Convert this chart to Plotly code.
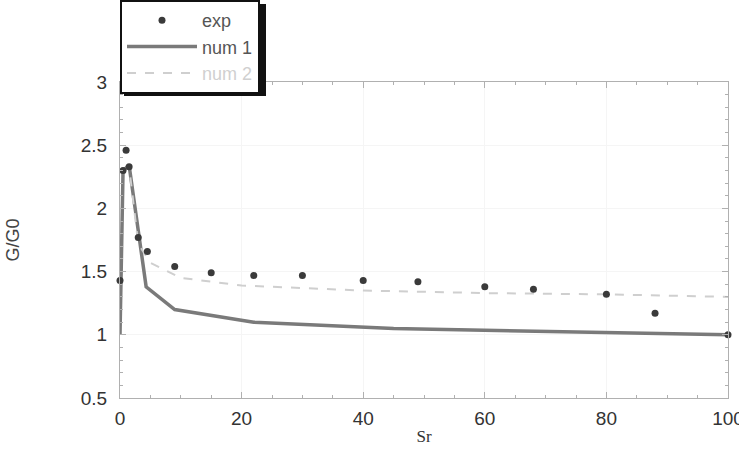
import plotly.graph_objects as go

exp_x = [0, 0.5, 1, 1.5, 3, 4.5, 9, 15, 22, 30, 40, 49, 60, 68, 80, 88, 100]
exp_y = [1.43, 2.3, 2.46, 2.33, 1.77, 1.66, 1.54, 1.49, 1.47, 1.47, 1.43, 1.42, 1.38, 1.36, 1.32, 1.17, 1.0]

num1_x = [0, 0.5, 1.5, 4.3, 9, 22, 45, 100]
num1_y = [1.0, 2.3, 2.34, 1.38, 1.2, 1.1, 1.05, 1.0]

num2_x = [0.5, 1.5, 3, 5, 10, 20, 40, 60, 80, 100]
num2_y = [2.3, 2.33, 1.72, 1.57, 1.45, 1.39, 1.35, 1.33, 1.32, 1.3]

fig = go.Figure()
fig.add_trace(go.Scatter(x=num1_x, y=num1_y, mode="lines", name="num 1", legendrank=2,
                         line=dict(color="#7a7a7a", width=3.5), cliponaxis=False))
fig.add_trace(go.Scatter(x=num2_x, y=num2_y, mode="lines", legendrank=3,
                         name="<span style='color:#d0d0d0'>num 2</span>",
                         line=dict(color="#cfcfcf", width=2, dash="dash"), cliponaxis=False))
fig.add_trace(go.Scatter(x=exp_x, y=exp_y, mode="markers", name="exp", legendrank=1,
                         marker=dict(color="#3a3a3a", size=7), cliponaxis=False))

axis_common = dict(showline=True, linecolor="#b0b0b0", linewidth=1, mirror="ticks",
                   ticks="inside", ticklen=6, tickcolor="#b0b0b0",
                   showgrid=True, gridcolor="#f5f5f5", zeroline=False,
                   ticklabeloverflow="allow",
                   tickfont=dict(family="Liberation Sans, Arial", size=19, color="#333"))

fig.update_xaxes(range=[0, 100], tick0=0, dtick=20, ticklabelstandoff=3,
                 minor=dict(dtick=5, ticks="inside", ticklen=3, tickcolor="#b0b0b0", showgrid=False),
                 title=dict(text="Sr", font=dict(family="Liberation Serif", size=17, color="#333"), standoff=2),
                 **axis_common)
fig.update_yaxes(range=[0.5, 3], tick0=0.5, dtick=0.5, ticklabelstandoff=8,
                 minor=dict(dtick=0.1, ticks="inside", ticklen=3, tickcolor="#b0b0b0", showgrid=False),
                 title=dict(text="G/G0", font=dict(family="Liberation Sans, Arial", size=18, color="#444"), standoff=56),
                 **axis_common)

# legend drop shadow (paper coords: y=1 at plot top, plot height 316px, width 608px)
fig.add_shape(type="rect", xref="paper", yref="paper",
              x0=4 / 608, x1=146 / 608, y0=(398 - 96) / 316, y1=(398 - 4) / 316,
              fillcolor="#111", line_width=0, layer="above")

fig.update_layout(
    width=739, height=449,
    margin=dict(l=120, r=11, t=82, b=51, autoexpand=False),
    plot_bgcolor="white", paper_bgcolor="white",
    showlegend=True,
    legend=dict(x=0, y=1.0, xref="paper", yref="container", xanchor="left", yanchor="top",
                bgcolor="white", bordercolor="#111", borderwidth=2,
                font=dict(family="Liberation Sans, Arial", size=18, color="#555"),
                itemwidth=70, tracegroupgap=0),
)

fig.write_html("out.html")
